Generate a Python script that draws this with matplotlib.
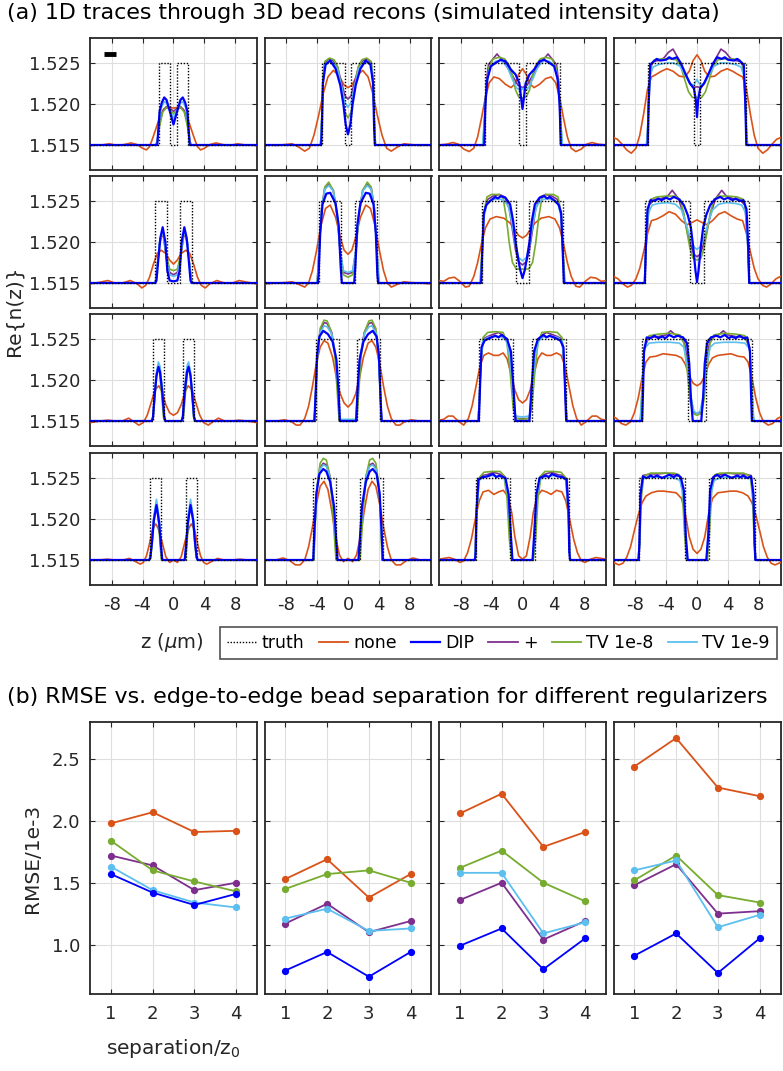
import numpy as np
import matplotlib
matplotlib.use("Agg")
import matplotlib.pyplot as plt
from matplotlib.lines import Line2D

plt.rcParams['font.family'] = ['DejaVu Sans']
plt.rcParams['mathtext.fontset'] = 'dejavusans'

# ---------------- data ----------------
# bead geometry (um)
bead_width = [1.5, 2.95, 4.45, 5.85]      # per column
bead_gap = [0.85, 1.7, 2.4, 3.2]          # per row (edge-to-edge)

# scale bar in the first panel
bar_z = [-9.0, -7.45]
bar_dn = 11.1

# half profiles (z >= 0) of each trace, value = (n - 1.515) * 1e3
# indexed [row][col]
none_tr = [
    [[(0,4.5),(0.6,4.6),(1.2,4.4),(1.7,3.6),(2.2,2.2),(2.7,0.8),(3.1,-0.2),(3.5,-0.6),(4.0,-0.4),(4.7,0.05),(5.5,0.25),(6.4,0.05),(7.3,-0.05),(8.3,0.15),(9.3,0.0),(10.8,-0.05)],
     [(0,7.0),(0.5,7.3),(1.2,8.5),(1.9,9.1),(2.6,8.3),(3.2,6.3),(3.8,3.6),(4.4,1.2),(5.0,-0.4),(5.6,-0.75),(6.3,-0.3),(7.2,0.15),(8.2,0.05),(9.2,-0.05),(10.8,0)],
     [(0,9.3),(0.5,8.6),(1.0,7.4),(1.5,7.0),(2.2,7.4),(3.0,8.1),(3.7,8.3),(4.3,7.6),(4.8,5.8),(5.3,3.3),(5.8,1.0),(6.3,-0.4),(6.9,-0.8),(7.6,-0.5),(8.3,0.1),(9.0,0.3),(9.8,0.1),(10.8,0.0)],
     [(0,11.0),(0.5,10.3),(1.0,9.0),(1.6,8.3),(2.3,8.4),(3.1,9.0),(3.9,9.3),(4.6,9.0),(5.3,8.6),(5.9,8.3),(6.4,6.8),(6.9,3.8),(7.4,1.2),(7.9,-0.4),(8.5,-1.0),(9.1,-0.6),(9.7,0.1),(10.3,0.7),(10.8,0.9)]],
    [[(0,2.3),(0.5,2.8),(1.0,3.6),(1.6,4.0),(2.1,3.6),(2.6,2.3),(3.1,0.7),(3.6,-0.3),(4.1,-0.6),(4.7,-0.1),(5.6,0.3),(6.6,0.0),(7.6,0.0),(8.5,0.3),(9.5,0.1),(10.8,-0.1)],
     [(0,3.5),(0.5,4.0),(1.0,5.6),(1.6,8.0),(2.3,9.5),(2.9,9.1),(3.5,7.0),(4.1,3.8),(4.6,1.5),(5.1,0.0),(5.6,-0.5),(6.3,-0.2),(7.2,0.15),(8.2,0.05),(9.2,0.0),(10.8,-0.1)],
     [(0,5.5),(0.5,5.8),(1.0,6.5),(1.6,7.3),(2.4,7.9),(3.4,8.1),(4.2,7.8),(4.8,6.7),(5.3,4.8),(5.8,2.5),(6.3,0.8),(6.9,-0.4),(7.4,-0.5),(8.1,0.2),(8.8,0.7),(9.5,0.6),(10.2,0.2),(10.8,0.3)],
     [(0,7.7),(0.6,7.4),(1.3,7.1),(2.0,7.6),(2.8,8.4),(3.6,8.7),(4.4,8.2),(5.2,7.8),(5.9,7.6),(6.4,6.0),(6.9,3.8),(7.4,1.8),(7.9,0.5),(8.5,-0.3),(9.0,-0.5),(9.6,-0.1),(10.2,0.5),(10.8,0.8)]],
    [[(0,0.7),(0.5,1.0),(1.0,2.0),(1.5,3.6),(1.9,4.3),(2.4,3.8),(2.9,2.2),(3.4,0.7),(3.9,-0.2),(4.5,-0.5),(5.1,-0.1),(5.8,0.35),(6.6,0.0),(7.5,0.0),(8.5,0.1),(9.5,0.0),(10.8,-0.2)],
     [(0,1.7),(0.5,2.2),(1.0,3.3),(1.5,5.3),(2.0,7.8),(2.6,9.5),(3.1,9.8),(3.6,9.0),(4.1,7.0),(4.6,4.2),(5.1,1.8),(5.6,0.3),(6.2,-0.5),(6.7,-0.5),(7.3,-0.1),(8.2,0.15),(9.2,0.0),(10.8,0.0)],
     [(0,2.2),(0.5,2.6),(1.0,3.8),(1.5,5.8),(2.0,7.6),(2.5,8.3),(3.1,8.0),(3.7,8.0),(4.4,8.3),(5.0,8.0),(5.5,6.7),(6.0,4.3),(6.5,1.9),(7.0,0.3),(7.6,-0.5),(8.2,-0.1),(9.0,0.6),(9.6,0.6),(10.2,0.2),(10.8,0.1)],
     [(0,4.3),(0.5,4.6),(1.0,5.5),(1.5,6.9),(2.0,7.7),(2.7,8.0),(3.5,8.1),(4.4,8.2),(5.3,7.9),(6.1,7.8),(6.6,7.2),(7.1,5.3),(7.6,2.8),(8.1,1.0),(8.6,-0.1),(9.2,-0.5),(9.8,-0.3),(10.4,0.3),(10.8,0.5)]],
    [[(0,0.0),(0.5,-0.3),(1.0,0.4),(1.5,2.3),(2.0,3.9),(2.3,4.4),(2.7,3.8),(3.1,2.0),(3.5,0.5),(3.9,-0.3),(4.3,-0.5),(4.9,-0.2),(5.7,0.2),(6.5,0.0),(7.6,0.0),(8.6,0.1),(9.6,0.0),(10.8,0.0)],
     [(0,0.2),(0.6,-0.2),(1.1,0.6),(1.6,2.8),(2.1,6.0),(2.6,8.6),(3.1,9.6),(3.6,9.0),(4.1,6.8),(4.6,4.0),(5.1,1.6),(5.6,0.0),(6.2,-0.6),(6.8,-0.6),(7.5,-0.1),(8.4,0.25),(9.3,0.0),(10.8,0.0)],
     [(0,0.1),(0.5,0.5),(1.0,2.9),(1.4,5.8),(1.9,7.8),(2.5,8.5),(3.1,8.3),(3.7,8.0),(4.4,8.5),(5.1,8.3),(5.6,7.2),(6.1,5.0),(6.6,2.6),(7.1,0.9),(7.6,-0.1),(8.1,-0.3),(8.8,0.1),(9.5,0.3),(10.8,0.1)],
     [(0,0.8),(0.5,1.3),(1.0,2.8),(1.5,5.6),(2.0,7.5),(2.7,8.2),(3.5,8.3),(4.3,8.4),(5.1,8.4),(5.9,8.2),(6.6,7.8),(7.1,7.0),(7.6,5.5),(8.1,3.6),(8.6,1.6),(9.1,0.3),(9.6,-0.4),(10.1,-0.6),(10.8,-0.3)]],
]

dip_tr = [
    [[(0,2.5),(0.5,4.2),(0.9,5.5),(1.2,5.8),(1.5,5.2),(1.8,4.1),(1.95,2.0),(2.1,0.0),(10.8,0)],
     [(0,1.3),(0.3,2.5),(0.6,5.0),(1.0,7.3),(1.6,9.3),(2.3,10.3),(2.9,9.8),(3.25,7.5),(3.38,2.0),(3.48,0),(10.8,0)],
     [(0,4.4),(0.15,5.5),(0.4,7.5),(0.9,8.6),(1.5,9.2),(2.2,10.2),(2.8,10.4),(3.5,10.0),(4.1,9.6),(4.55,8.0),(4.8,5.0),(4.95,0),(10.8,0)],
     [(0,3.4),(0.15,5.5),(0.4,6.9),(0.9,7.5),(1.5,8.7),(2.1,10.0),(2.6,10.7),(3.2,10.5),(3.6,10.7),(4.0,10.4),(4.8,10.3),(5.2,10.5),(5.6,10.2),(6.05,9.8),(6.25,5.0),(6.38,0),(10.8,0)]],
    [[(0,0.2),(0.5,0.3),(0.8,1.5),(1.05,5.0),(1.4,6.8),(1.7,5.5),(2.0,2.5),(2.2,0.3),(2.35,0),(10.8,0)],
     [(0,0),(0.8,0),(0.95,2.0),(1.2,7.0),(1.6,9.7),(2.3,11.0),(2.8,10.9),(3.3,9.6),(3.6,6.0),(3.8,1.0),(3.9,0),(10.8,0)],
     [(0,0.6),(0.3,1.6),(0.6,3.2),(0.9,5.0),(1.2,7.5),(1.6,9.6),(2.2,10.4),(2.8,10.6),(3.2,10.3),(3.5,10.5),(4.2,10.0),(4.7,9.5),(5.0,8.5),(5.2,4.0),(5.35,0),(10.8,0)],
     [(0,0.1),(0.2,1.5),(0.5,4.5),(0.8,6.8),(1.2,8.3),(1.7,9.5),(2.3,10.2),(3.0,10.5),(3.5,10.2),(4.0,10.4),(4.6,10.1),(5.0,10.3),(5.5,10.0),(6.0,10.1),(6.4,9.0),(6.6,5.0),(6.75,0),(10.8,0)]],
    [[(0,0),(1.05,0),(1.2,0.5),(1.45,3.5),(1.75,6.0),(1.95,6.6),(2.2,5.5),(2.45,3.0),(2.65,0.5),(2.8,0),(10.8,0)],
     [(0,0),(1.05,0),(1.25,4.0),(1.5,7.5),(2.0,9.7),(2.6,10.6),(3.2,11.0),(3.7,10.3),(4.0,8.0),(4.2,3.0),(4.35,0),(10.8,0)],
     [(0,0),(0.9,0),(1.1,3.0),(1.5,8.5),(2.0,10.0),(2.7,10.5),(3.1,10.2),(3.5,10.4),(4.3,10.1),(4.9,9.8),(5.3,9.0),(5.5,4.0),(5.65,0),(10.8,0)],
     [(0,0),(0.55,0),(0.8,3.0),(1.0,7.0),(1.3,9.5),(1.8,10.2),(2.5,10.4),(3.0,10.2),(3.6,10.5),(4.1,10.1),(4.5,10.3),(5.0,10.1),(5.5,10.4),(6.0,10.1),(6.5,10.2),(6.85,8.5),(7.0,3.0),(7.1,0),(10.8,0)]],
    [[(0,0),(1.45,0),(1.6,1.5),(1.85,4.5),(2.2,6.7),(2.55,4.8),(2.8,2.0),(3.0,0.3),(3.15,0),(10.8,0)],
     [(0,0),(1.35,0),(1.5,2.0),(1.8,6.5),(2.3,9.5),(2.8,10.8),(3.2,11.1),(3.7,10.5),(4.1,8.0),(4.35,3.5),(4.5,0),(10.8,0)],
     [(0,0),(1.3,0),(1.5,3.0),(1.8,8.0),(2.2,10.0),(3.0,10.3),(3.4,10.1),(3.8,10.5),(4.5,10.2),(5.2,10.1),(5.7,9.8),(5.95,6.0),(6.05,1.0),(6.15,0),(10.8,0)],
     [(0,0),(1.2,0),(1.45,3.0),(1.7,8.5),(2.1,10.1),(2.6,10.4),(3.0,10.1),(3.6,10.4),(4.5,10.0),(5.2,10.3),(5.6,10.1),(6.0,10.3),(6.5,10.0),(7.0,10.2),(7.3,8.0),(7.45,2.0),(7.55,0),(10.8,0)]],
]

plus_tr = [
    [[(0,4.1),(0.5,4.5),(0.9,4.7),(1.4,4.2),(1.8,2.6),(2.1,0.5),(2.3,0),(10.8,0)],
     [(0,5.6),(0.4,6.0),(0.8,7.5),(1.4,9.6),(2.0,10.3),(2.5,10.5),(3.0,10.0),(3.2,8.0),(3.4,3.0),(3.55,0),(10.8,0)],
     [(0,7.0),(0.6,7.3),(1.2,8.3),(1.9,9.4),(2.6,10.3),(3.3,11.1),(3.9,10.4),(4.4,9.8),(4.7,7.5),(4.9,2.0),(5.05,0),(10.8,0)],
     [(0,7.1),(0.5,7.0),(1.0,7.6),(1.7,9.0),(2.4,10.5),(3.1,11.7),(3.7,11.3),(4.3,10.6),(5.0,10.3),(5.6,10.2),(6.0,9.5),(6.25,6.0),(6.42,0),(10.8,0)]],
    [[(0,1.0),(0.5,1.3),(0.9,3.0),(1.3,5.6),(1.5,5.9),(1.8,4.8),(2.1,2.0),(2.35,0),(10.8,0)],
     [(0,1.1),(0.6,1.3),(1.0,3.8),(1.4,8.3),(1.9,11.3),(2.5,12.1),(3.0,11.6),(3.4,9.2),(3.7,4.5),(3.95,0.5),(4.05,0),(10.8,0)],
     [(0,2.2),(0.5,2.6),(0.9,4.0),(1.3,6.5),(1.7,9.0),(2.3,10.5),(3.0,10.8),(3.8,10.6),(4.5,10.2),(5.0,8.5),(5.25,3.0),(5.4,0),(10.8,0)],
     [(0,3.2),(0.4,3.5),(0.8,4.6),(1.3,6.5),(1.8,8.5),(2.4,10.3),(3.2,11.3),(3.8,10.6),(4.6,10.3),(5.5,10.2),(6.2,9.5),(6.55,5.0),(6.75,0),(10.8,0)]],
    [[(0,0),(1.05,0),(1.2,0.5),(1.45,3.8),(1.75,6.3),(1.95,6.9),(2.2,5.7),(2.45,3.0),(2.65,0.5),(2.8,0),(10.8,0)],
     [(0,0),(1.1,0),(1.3,3.5),(1.6,7.8),(2.1,10.8),(2.7,11.9),(3.1,12.0),(3.6,11.0),(3.95,8.0),(4.2,3.0),(4.35,0),(10.8,0)],
     [(0,0.3),(0.9,0.3),(1.15,3.0),(1.55,8.0),(2.0,9.8),(2.6,10.5),(3.1,10.8),(3.7,10.6),(4.5,10.3),(5.1,10.0),(5.4,7.0),(5.6,2.0),(5.75,0),(10.8,0)],
     [(0,0.9),(0.5,1.1),(0.85,3.0),(1.2,7.0),(1.6,9.5),(2.2,10.3),(2.8,10.5),(3.4,11.0),(4.0,10.5),(5.0,10.3),(6.2,10.2),(6.8,9.0),(7.05,4.0),(7.2,0),(10.8,0)]],
    [[(0,0),(1.5,0),(1.65,1.5),(1.9,4.7),(2.2,7.0),(2.55,5.0),(2.8,2.0),(3.0,0.3),(3.15,0),(10.8,0)],
     [(0,0),(1.45,0),(1.6,2.0),(1.9,6.5),(2.35,10.3),(2.8,11.6),(3.2,11.8),(3.65,11.2),(4.05,8.5),(4.3,3.8),(4.45,0),(10.8,0)],
     [(0,0),(1.35,0),(1.55,3.0),(1.85,8.0),(2.3,10.2),(3.0,10.5),(3.8,10.7),(4.6,10.4),(5.3,10.3),(5.75,9.8),(6.0,5.0),(6.15,0),(10.8,0)],
     [(0,0),(1.25,0),(1.5,3.0),(1.8,8.5),(2.2,10.2),(3.0,10.4),(4.0,10.6),(5.0,10.5),(6.0,10.5),(7.0,10.3),(7.3,8.0),(7.45,2.0),(7.6,0),(10.8,0)]],
]

tv8_tr = [
    [[(0,3.8),(0.5,4.3),(0.9,4.6),(1.4,4.0),(1.8,2.3),(2.1,0.4),(2.3,0),(10.8,0)],
     [(0,3.3),(0.4,4.0),(0.8,6.5),(1.3,9.5),(1.8,10.4),(2.4,10.6),(3.0,10.2),(3.2,8.5),(3.4,3.0),(3.55,0),(10.8,0)],
     [(0,5.7),(0.5,5.9),(0.9,6.7),(1.3,8.5),(1.7,9.7),(2.3,10.5),(3.0,10.7),(3.8,10.5),(4.3,9.6),(4.7,7.0),(4.95,2.5),(5.15,0),(10.8,0)],
     [(0,5.8),(0.6,5.8),(1.1,6.5),(1.6,8.0),(2.1,9.6),(2.7,10.4),(3.5,10.5),(4.5,10.5),(5.5,10.4),(5.95,9.7),(6.2,6.5),(6.4,1.5),(6.55,0),(10.8,0)]],
    [[(0,1.5),(0.5,1.7),(0.9,3.3),(1.3,5.8),(1.5,6.0),(1.8,4.8),(2.1,2.0),(2.35,0),(10.8,0)],
     [(0,0.7),(0.6,1.0),(1.0,3.5),(1.4,8.0),(1.9,11.3),(2.5,12.3),(3.0,11.7),(3.4,9.0),(3.7,4.5),(3.95,0.5),(4.05,0),(10.8,0)],
     [(0,1.7),(0.8,1.7),(1.3,2.5),(1.7,4.8),(2.1,8.0),(2.5,10.3),(3.0,10.8),(4.0,10.8),(4.6,10.5),(5.0,8.5),(5.3,3.0),(5.5,0),(10.8,0)],
     [(0,2.8),(0.5,3.0),(0.9,4.2),(1.3,6.2),(1.7,8.5),(2.2,10.2),(2.8,10.6),(4.0,10.6),(5.2,10.5),(6.0,10.2),(6.4,8.5),(6.65,3.0),(6.8,0),(10.8,0)]],
    [[(0,0),(1.15,0),(1.3,0.5),(1.55,3.5),(1.8,6.0),(1.95,6.5),(2.2,5.5),(2.4,3.0),(2.6,0.5),(2.75,0),(10.8,0)],
     [(0,0),(1.15,0),(1.35,3.0),(1.7,8.0),(2.2,11.0),(2.7,12.2),(3.1,12.3),(3.6,11.3),(3.95,8.0),(4.2,3.0),(4.35,0),(10.8,0)],
     [(0,0.2),(0.8,0.3),(1.2,1.5),(1.6,6.0),(2.0,9.5),(2.5,10.8),(3.5,10.9),(4.5,10.8),(5.1,10.2),(5.4,7.0),(5.6,2.0),(5.8,0),(10.8,0)],
     [(0,0.7),(0.5,0.9),(0.9,2.5),(1.3,6.5),(1.7,9.5),(2.2,10.5),(3.5,10.7),(5.0,10.6),(6.2,10.4),(6.8,9.0),(7.1,4.0),(7.3,0.5),(7.4,0),(10.8,0)]],
    [[(0,0),(1.55,0),(1.7,1.5),(1.95,4.8),(2.2,6.8),(2.5,5.0),(2.75,2.0),(2.95,0.3),(3.1,0),(10.8,0)],
     [(0,0),(1.55,0),(1.7,2.0),(2.0,6.5),(2.4,10.5),(2.8,12.2),(3.2,12.4),(3.6,11.8),(4.0,9.0),(4.25,4.0),(4.4,0),(10.8,0)],
     [(0,0),(1.4,0),(1.7,2.5),(2.0,7.5),(2.4,10.3),(2.9,10.8),(4.0,10.8),(5.0,10.7),(5.6,10.0),(5.9,6.0),(6.1,1.0),(6.2,0),(10.8,0)],
     [(0,0),(1.35,0),(1.6,3.0),(1.9,8.5),(2.3,10.4),(3.0,10.6),(4.5,10.6),(6.0,10.6),(6.9,10.2),(7.2,7.5),(7.4,2.0),(7.55,0),(10.8,0)]],
]

tv9_tr = [
    [[(0,3.3),(0.5,4.3),(0.9,5.1),(1.2,5.3),(1.6,4.5),(1.9,2.5),(2.1,0.4),(2.3,0),(10.8,0)],
     [(0,4.6),(0.4,5.2),(0.8,7.0),(1.4,9.3),(2.0,10.1),(2.5,10.2),(3.0,9.8),(3.2,8.0),(3.4,3.0),(3.55,0),(10.8,0)],
     [(0,6.9),(0.3,6.6),(0.8,7.0),(1.4,8.2),(2.0,9.6),(2.8,10.3),(3.5,10.2),(4.2,9.5),(4.65,7.5),(4.95,3.0),(5.15,0),(10.8,0)],
     [(0,8.0),(0.4,7.3),(0.9,7.5),(1.5,8.5),(2.2,9.6),(3.0,10.0),(4.0,10.0),(5.0,9.8),(5.7,9.5),(6.05,8.5),(6.3,4.0),(6.5,0),(10.8,0)]],
    [[(0,0.8),(0.5,1.0),(0.9,2.8),(1.2,5.5),(1.45,6.3),(1.8,5.0),(2.1,2.0),(2.35,0),(10.8,0)],
     [(0,1.3),(0.6,1.5),(1.0,4.0),(1.4,8.5),(1.9,11.2),(2.5,11.9),(3.0,11.4),(3.4,9.2),(3.7,4.8),(3.95,0.5),(4.05,0),(10.8,0)],
     [(0,2.7),(0.5,3.1),(0.9,4.5),(1.3,7.0),(1.8,9.3),(2.4,10.1),(3.2,10.3),(4.0,10.1),(4.6,9.6),(5.0,8.0),(5.25,3.0),(5.4,0),(10.8,0)],
     [(0,4.1),(0.4,4.4),(0.9,5.5),(1.4,7.2),(2.0,8.9),(2.8,9.6),(3.8,9.8),(5.0,9.7),(5.8,9.5),(6.3,8.5),(6.6,4.0),(6.8,0),(10.8,0)]],
    [[(0,0),(1.05,0),(1.2,0.6),(1.45,4.0),(1.75,6.7),(1.95,7.2),(2.2,6.0),(2.45,3.2),(2.65,0.6),(2.8,0),(10.8,0)],
     [(0,0.2),(1.0,0.2),(1.25,3.5),(1.55,7.8),(2.1,10.6),(2.7,11.5),(3.1,11.6),(3.6,10.8),(3.95,8.0),(4.2,3.0),(4.35,0),(10.8,0)],
     [(0,0.5),(0.9,0.6),(1.2,3.0),(1.6,7.8),(2.1,9.8),(2.8,10.3),(3.6,10.3),(4.5,10.2),(5.1,9.8),(5.4,7.0),(5.6,2.0),(5.75,0),(10.8,0)],
     [(0,0.9),(0.4,1.2),(0.8,3.0),(1.2,6.5),(1.7,9.0),(2.3,9.5),(3.5,9.6),(5.0,9.6),(6.2,9.5),(6.8,8.8),(7.1,4.0),(7.3,0.5),(7.4,0),(10.8,0)]],
    [[(0,0),(1.45,0),(1.6,1.6),(1.85,5.0),(2.2,7.4),(2.55,5.3),(2.8,2.2),(3.0,0.4),(3.15,0),(10.8,0)],
     [(0,0),(1.4,0),(1.55,2.0),(1.85,6.5),(2.3,10.0),(2.8,11.4),(3.2,11.6),(3.65,11.0),(4.05,8.5),(4.3,3.8),(4.5,0),(10.8,0)],
     [(0,0),(1.35,0),(1.55,3.0),(1.85,7.8),(2.3,9.9),(3.0,10.2),(4.0,10.3),(5.0,10.2),(5.6,9.7),(5.95,5.5),(6.1,1.0),(6.2,0),(10.8,0)],
     [(0,0),(1.25,0),(1.5,3.0),(1.8,8.0),(2.2,9.7),(3.0,10.0),(4.5,10.1),(6.0,10.1),(7.0,9.9),(7.3,7.5),(7.45,2.0),(7.6,0),(10.8,0)]],
]

# RMSE (x 1e-3) vs separation, one list per panel
separation = [1, 2, 3, 4]
rmse_none = [[1.98, 2.07, 1.91, 1.92], [1.53, 1.69, 1.38, 1.57], [2.06, 2.22, 1.79, 1.91], [2.44, 2.67, 2.27, 2.20]]
rmse_dip  = [[1.57, 1.42, 1.32, 1.41], [0.79, 0.94, 0.74, 0.94], [0.99, 1.13, 0.80, 1.05], [0.91, 1.09, 0.77, 1.05]]
rmse_plus = [[1.72, 1.64, 1.44, 1.50], [1.17, 1.33, 1.10, 1.19], [1.36, 1.50, 1.04, 1.19], [1.48, 1.65, 1.25, 1.27]]
rmse_tv8  = [[1.84, 1.60, 1.51, 1.43], [1.45, 1.57, 1.60, 1.50], [1.62, 1.76, 1.50, 1.35], [1.52, 1.72, 1.40, 1.34]]
rmse_tv9  = [[1.63, 1.44, 1.34, 1.30], [1.21, 1.29, 1.11, 1.13], [1.58, 1.58, 1.09, 1.18], [1.60, 1.68, 1.14, 1.24]]

# ---------------- style ----------------
c_none = "#D95319"
c_dip = "#0000FF"
c_plus = "#7E2F8E"
c_tv8 = "#77AC30"
c_tv9 = "#5CBFF0"
c_ax = "#262626"

W, H = 783, 1071
fig = plt.figure(figsize=(W / 100, H / 100), dpi=100)

col_left = [90, 264.5, 439, 613.5]
col_w = 167
row_top = [38, 176, 314, 453]
row_h = 132


def px_axes(left, top, w, h):
    return fig.add_axes([left / W, 1 - (top + h) / H, w / W, h / H])


def full_profile(half):
    z = [p[0] for p in half]
    v = [p[1] for p in half]
    zf = np.array([-a for a in z[::-1]] + z[1:])
    vf = np.array(v[::-1] + v[1:])
    return zf, 1.515 + vf * 1e-3


def style_axes(ax):
    for s in ax.spines.values():
        s.set_color(c_ax)
        s.set_linewidth(1.3)
    ax.tick_params(direction="in", top=True, right=True, length=3.5, width=0.8,
                   color=c_ax, labelcolor=c_ax, labelsize=13)
    ax.grid(True, color="#dedede", linewidth=0.8)
    ax.set_axisbelow(True)


for r in range(4):
    for c in range(4):
        ax = px_axes(col_left[c], row_top[r], col_w, row_h)
        style_axes(ax)
        inner = bead_gap[r] / 2
        outer = inner + bead_width[c]
        tz = [-10.8, -outer, -outer, -inner, -inner, inner, inner, outer, outer, 10.8]
        tn = [1.515, 1.515, 1.525, 1.525, 1.515, 1.515, 1.525, 1.525, 1.515, 1.515]
        for data, col, lw, zo in [(none_tr, c_none, 1.2, 3), (plus_tr, c_plus, 1.2, 4),
                                  (tv8_tr, c_tv8, 1.2, 5), (tv9_tr, c_tv9, 1.2, 6),
                                  (dip_tr, c_dip, 1.6, 7)]:
            z, n = full_profile(data[r][c])
            ax.plot(z, n, color=col, lw=lw, zorder=zo)
        ax.plot(tz, tn, color="k", lw=1.0, ls=(0, (1, 1.2)), zorder=8)
        if r == 0 and c == 0:
            ax.plot(bar_z, [1.515 + bar_dn * 1e-3] * 2, color="k", lw=3.5, solid_capstyle="butt", zorder=9)
        ax.set_xlim(-10.8, 10.8)
        ax.set_ylim(1.51195, 1.52805)
        ax.set_xticks([-8, -4, 0, 4, 8])
        ax.set_yticks([1.515, 1.520, 1.525])
        if c == 0:
            ax.set_yticklabels(["1.515", "1.520", "1.525"])
            ax.tick_params(axis="y", pad=7)
        else:
            ax.set_yticklabels([])
        if r == 3:
            ax.set_xticklabels(["-8", "-4", "0", "4", "8"])
            ax.tick_params(axis="x", pad=8)
        else:
            ax.set_xticklabels([])

# RMSE panels
for c in range(4):
    ax = px_axes(col_left[c], 722, col_w, 272)
    style_axes(ax)
    for data, col in [(rmse_none, c_none), (rmse_plus, c_plus), (rmse_tv8, c_tv8),
                      (rmse_tv9, c_tv9), (rmse_dip, c_dip)]:
        ax.plot(separation, data[c], color=col, lw=1.3, marker="o", ms=4.2)
    ax.set_xlim(0.5, 4.5)
    ax.set_ylim(0.6, 2.8)
    ax.set_xticks(separation)
    ax.set_yticks([1.0, 1.5, 2.0, 2.5])
    ax.tick_params(axis="x", pad=8)
    if c == 0:
        ax.set_yticklabels(["1.0", "1.5", "2.0", "2.5"])
        ax.tick_params(axis="y", pad=7)
    else:
        ax.set_yticklabels([])

# texts
fig.text(7 / W, 1 - 13 / H, "(a) 1D traces through 3D bead recons (simulated intensity data)",
         fontsize=15.9, ha="left", va="center", color="k")
fig.text(7 / W, 1 - 697 / H, "(b) RMSE vs. edge-to-edge bead separation for different regularizers",
         fontsize=15.9, ha="left", va="center", color="k")
fig.text(14 / W, 1 - 311 / H, "Re{n(z)}", rotation=90, fontsize=14.5, ha="center", va="center", color=c_ax)
fig.text(33 / W, 1 - 858 / H, "RMSE/1e-3", rotation=90, fontsize=14.5, ha="center", va="center", color=c_ax)
fig.text(172 / W, 1 - 642 / H, "z ($\\mu$m)", fontsize=14, ha="center", va="center", color=c_ax)
fig.text(173 / W, 1 - 1048 / H, "separation/z$_0$", fontsize=14.5, ha="center", va="center", color=c_ax)

handles = [
    Line2D([], [], color="k", lw=1.0, ls=(0, (1, 1.2))),
    Line2D([], [], color=c_none, lw=1.3),
    Line2D([], [], color=c_dip, lw=1.6),
    Line2D([], [], color=c_plus, lw=1.3),
    Line2D([], [], color=c_tv8, lw=1.3),
    Line2D([], [], color=c_tv9, lw=1.3),
]
leg = fig.legend(handles, ["truth", "none", "DIP", "+", "TV 1e-8", "TV 1e-9"],
                 loc="center", bbox_to_anchor=((220 + 777) / 2 / W, 1 - 643 / H),
                 ncol=6, fontsize=12.5, frameon=True, fancybox=False,
                 handlelength=1.7, handletextpad=0.3, columnspacing=0.8,
                 borderpad=0.4, borderaxespad=0)
leg.get_frame().set_edgecolor(c_ax)
leg.get_frame().set_linewidth(1.2)

fig.savefig("out.png", dpi=100)
